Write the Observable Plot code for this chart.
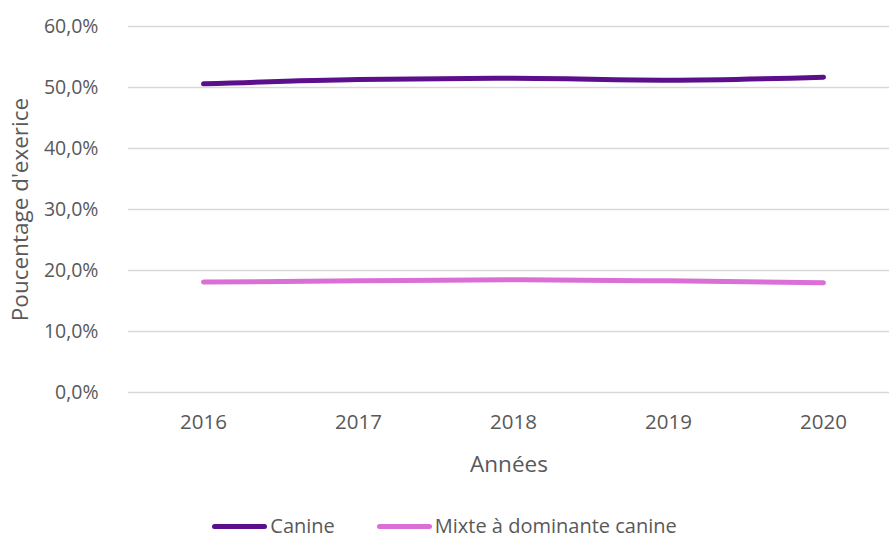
<!DOCTYPE html>
<html>
<head>
<meta charset="utf-8">
<script src="https://cdn.jsdelivr.net/npm/d3@7"></script>
<script src="https://cdn.jsdelivr.net/npm/@observablehq/plot@0.6"></script>
<style>
  body { margin: 0; background: #fff; font-family: "Open Sans", sans-serif; overflow: hidden; }
  #legend { display: flex; justify-content: center; align-items: center; height: 26px; line-height: 1.1; font-size: 20px; color: #595959; margin-top: 23px; }
  .item { display: flex; align-items: center; }
  .sw { width: 55px; height: 5px; border-radius: 3px; margin-right: 3px; }
</style>
</head>
<body>
<div id="chart"></div>
<script>
const years = ["2016", "2017", "2018", "2019", "2020"];
const canine = [50.6, 51.3, 51.5, 51.2, 51.7];
const mixte = [18.1, 18.3, 18.5, 18.3, 18.0];
const seriesNames = ["Canine", "Mixte à dominante canine"];
const seriesColors = ["#5c0f8b", "#da70d6"];
const yTicks = [0, 10, 20, 30, 40, 50, 60];

const data = [
  ...years.map((y, i) => ({year: y, value: canine[i], series: seriesNames[0]})),
  ...years.map((y, i) => ({year: y, value: mixte[i], series: seriesNames[1]}))
];
const fmt = v => v.toFixed(1).replace(".", ",") + "%";

const chart = Plot.plot({
  width: 889,
  height: 490,
  marginLeft: 128,
  marginRight: 0,
  marginTop: 26,
  marginBottom: 98,
  style: {fontFamily: "Open Sans, sans-serif", fontSize: "20px", color: "#595959", background: "#fff"},
  x: {type: "point", domain: years, range: [203, 823], padding: 0},
  y: {domain: [0, 60]},
  color: {domain: seriesNames, range: seriesColors},
  marks: [
    Plot.ruleY(yTicks, {stroke: "#d9d9d9", strokeWidth: 1.3}),
    Plot.axisY(yTicks, {tickSize: 0, tickPadding: 30, tickFormat: fmt, fontSize: 19.5, label: null, fill: "#595959"}),
    Plot.axisY({ticks: [], label: "Poucentage d'exerice", labelAnchor: "center", labelArrow: "none", labelOffset: 116, fontSize: 22.5, fill: "#595959"}),
    Plot.axisX({tickSize: 0, tickPadding: 22, fontSize: 20.5, label: null, fill: "#595959"}),
    Plot.axisX({ticks: [], label: "Années", labelAnchor: "center", labelArrow: "none", labelOffset: 79, fontSize: 22.5, fill: "#595959"}),
    Plot.line(data, {x: "year", y: "value", z: "series", stroke: "series", strokeWidth: 5, strokeLinecap: "round", strokeLinejoin: "round", curve: "monotone-x"})
  ]
});
document.getElementById("chart").appendChild(chart);

const legend = document.createElement("div");
legend.id = "legend";
seriesNames.forEach((n, i) => {
  const it = document.createElement("div");
  it.className = "item";
  it.style.marginRight = i === 0 ? "42px" : "0";
  const sw = document.createElement("span");
  sw.className = "sw";
  sw.style.background = seriesColors[i];
  const t = document.createElement("span");
  t.textContent = n;
  it.appendChild(sw); it.appendChild(t);
  legend.appendChild(it);
});
document.body.appendChild(legend);
</script>
</body>
</html>
